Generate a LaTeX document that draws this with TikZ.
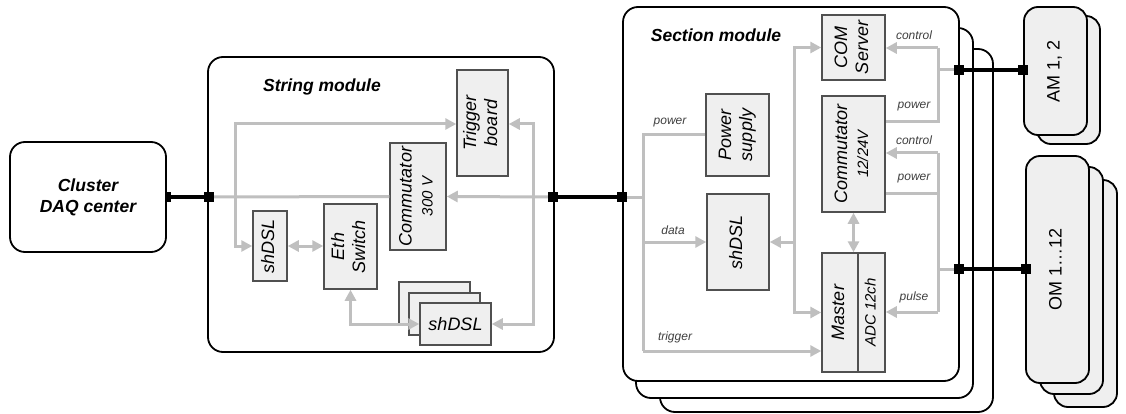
\documentclass[tikz,border=0pt]{standalone}
\usepackage{fontspec}
\setmainfont{Liberation Sans}
\usetikzlibrary{arrows.meta,positioning,calc}
\definecolor{wirepale}{HTML}{BFBFBF}
\definecolor{unitfill}{HTML}{EFEFEF}
\definecolor{unitedge}{HTML}{505050}
\definecolor{tagtext}{HTML}{404040}
\newcommand{\vlabel}[1]{\rotatebox{90}{\begin{tabular}{@{}c@{}}#1\end{tabular}}}

\begin{document}
\begin{tikzpicture}[
    x=1pt, y=-1pt,
    module/.style={
        draw=black,
        line width=1.8pt,
        rounded corners=15pt,
        fill=white,
        inner sep=0pt
    },
    unit/.style={
        draw=unitedge,
        line width=1.5pt,
        fill=unitfill,
        inner sep=0pt,
        font=\fontsize{18}{21}\selectfont\itshape
    },
    remote/.style={
        draw=black,
        line width=1.8pt,
        rounded corners=14pt,
        fill=unitfill,
        inner sep=0pt,
        font=\fontsize{18}{21}\selectfont
    },
    heading/.style={
        font=\fontsize{17.5}{21}\selectfont\bfseries\itshape
    },
    wire/.style={
        draw=wirepale,
        line width=3pt
    },
    feed/.style={
        wire,
        -{Triangle[length=11pt,width=11pt]}
    },
    duplex/.style={
        wire,
        {Triangle[length=11pt,width=11pt]}-{Triangle[length=11pt,width=11pt]}
    },
    cable/.style={
        draw=black,
        line width=3.2pt
    },
    joint/.style={
        fill=black,
        minimum size=10pt,
        inner sep=0pt
    },
    tag/.style={
        font=\fontsize{12}{14}\selectfont\itshape,
        text=tagtext
    }
]
\useasboundingbox (0,0) rectangle (1126,414);

% Cluster DAQ center
\node[module, minimum width=156pt, minimum height=110pt, font=\fontsize{17.5}{21}\selectfont\bfseries\itshape, align=center] (cluster) at (88,197) {Cluster\\DAQ center};

% String module
\node[module, minimum width=346pt, minimum height=295pt] (strmod) at (381,204.5) {};
\node[heading] (strttl) at (322,87) {String module};

\node[unit, minimum width=51pt, minimum height=106pt] (trig) at (482.5,123) {\vlabel{Trigger\\board}};
\node[unit, minimum width=56pt, minimum height=107pt] (comm) at (418,196.5) {\vlabel{Commutator\\{\fontsize{15}{17}\selectfont 300 V}}};
\node[unit, minimum width=34pt, minimum height=70pt] (shdsl) at (270,246) {\vlabel{shDSL}};
\node[unit, minimum width=53pt, minimum height=85pt] (eth) at (350.5,246.5) {\vlabel{Eth\\Switch}};
\node[unit, minimum width=71pt, minimum height=42pt] (dsl3) at (434.5,303) {};
\node[unit, minimum width=71pt, minimum height=42pt] (dsl2) at (444.5,314) {};
\node[unit, minimum width=71pt, minimum height=42pt] (dsl1) at (455.5,324) {shDSL};

\coordinate (sl) at (209,197);
\coordinate (sr) at (553,197);
\coordinate (up) at (235,124);
\coordinate (tap) at (235,197);
\coordinate (riser) at (533,197);

\draw[wire] (sl) -- (comm.west);
\draw[feed] (sr) -- (comm.east);
\draw[feed] (tap) -- (up) -- (trig.west |- up);
\draw[feed] (tap) |- (shdsl.west);
\draw[duplex] (shdsl.east) -- (shdsl.east -| eth.west);
\draw[duplex] (eth.south) |- (dsl1.west);
\draw[feed] (riser) |- (trig.east |- up);
\draw[feed] (riser) |- (dsl1.east);

% Section modules, stacked
\node[module, minimum width=333pt, minimum height=363pt] (sec3) at (826.5,230.5) {};
\node[module, minimum width=337pt, minimum height=370pt] (sec2) at (804.5,213) {};
\node[module, minimum width=336pt, minimum height=374pt] (sec) at (791,194) {};
\node[heading] (secttl) at (716,35) {Section module};

\node[unit, minimum width=63pt, minimum height=82pt] (psu) at (737.5,135) {\vlabel{Power\\supply}};
\node[unit, minimum width=62pt, minimum height=96pt] (dsl) at (738,242) {\vlabel{shDSL}};
\node[unit, minimum width=63pt, minimum height=65pt] (com) at (853.5,47.5) {\vlabel{COM\\Server}};
\node[unit, minimum width=63pt, minimum height=116pt] (commB) at (853.5,154) {\vlabel{Commutator\\{\fontsize{15}{17}\selectfont 12/24V}}};
\node[unit, minimum width=36pt, minimum height=119pt] (master) at (840,312.5) {\vlabel{Master}};
\node[unit, minimum width=27pt, minimum height=119pt] (adc) at (871.5,312.5) {\vlabel{\fontsize{15}{17}\selectfont ADC 12ch}};

\coordinate (sec in) at (622,197);
\coordinate (bus) at (643,197);
\coordinate (bd) at (643,242);
\coordinate (bt) at (643,351);
\coordinate (hub) at (794,242);
\coordinate (ctlA) at (938,48);
\coordinate (pwA) at (938,122);
\coordinate (ctlB) at (938,153);
\coordinate (pwB) at (938,193);
\coordinate (plsB) at (938,312);
\coordinate (am out) at (959,70);
\coordinate (om out) at (959,269);

\draw[wire] (sec in) -- (bus);
\draw[wire] (psu.west) -| (bt);
\draw[feed] (bd) -- (dsl.west);
\draw[feed] (bt) -- (master.west |- bt);
\draw[feed] (hub) -- (dsl.east);
\draw[feed] (hub) |- (com.west);
\draw[feed] (hub) |- (master.west);
\draw[duplex] (commB.south) -- (commB.south |- master.north);

\draw[feed] (ctlA) -- (com.east |- ctlA);
\draw[wire] (ctlA) -- (pwA) -- (commB.east |- pwA);
\draw[wire] (am out) -- (am out -| ctlA);
\draw[feed] (ctlB) -- (commB.east |- ctlB);
\draw[wire] (ctlB) -- (plsB);
\draw[wire] (pwB) -- (commB.east |- pwB);
\draw[feed] (plsB) -- (adc.east |- plsB);
\draw[wire] (om out) -- (om out -| ctlB);

\node[tag] (tpow) at (670,123) {power};
\node[tag] (tdata) at (673,230) {data};
\node[tag] (ttrig) at (675,337) {trigger};
\node[tag] (tctlA) at (914,35) {control};
\node[tag] (tpwA) at (914,107) {power};
\node[tag] (tctlB) at (914,140) {control};
\node[tag] (tpwB) at (914,179) {power};
\node[tag] (tpls) at (914,297) {pulse};

% Acoustic and optical modules
\node[remote, minimum width=63pt, minimum height=128pt] (am2) at (1068.5,80) {};
\node[remote, minimum width=63pt, minimum height=128pt] (am) at (1055.5,71) {\vlabel{AM 1, 2}};
\node[remote, minimum width=63pt, minimum height=227pt] (om3) at (1085.5,293.5) {};
\node[remote, minimum width=63pt, minimum height=227pt] (om2) at (1071.5,280.5) {};
\node[remote, minimum width=63pt, minimum height=227pt] (om) at (1057.5,269.5) {\vlabel{OM 1…12}};

% Cables and their joints
\node[joint, minimum width=5pt] (jc) at (168,197) {};
\node[joint] (jsl) at (sl) {};
\node[joint] (jsr) at (sr) {};
\node[joint] (jsec) at (sec in) {};
\node[joint] (jsa) at (am out) {};
\node[joint] (jso) at (om out) {};
\node[joint] (jam) at (1023,70) {};
\node[joint] (jom) at (1026,269) {};

\draw[cable] (jc) -- (jsl);
\draw[cable] (jsr) -- (jsec);
\draw[cable] (jsa) -- (jam);
\draw[cable] (jso) -- (jom);

\end{tikzpicture}
\end{document}
